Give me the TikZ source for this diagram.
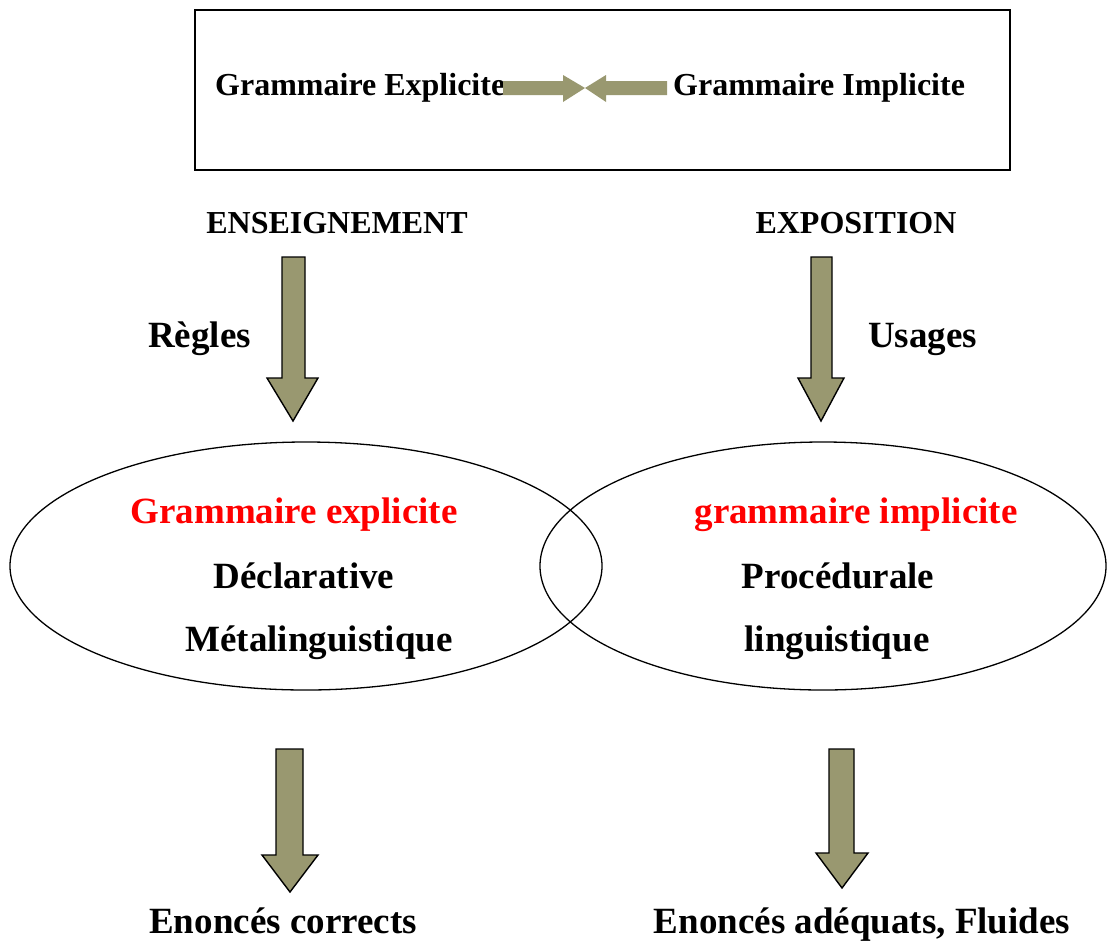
\documentclass[tikz,border=0pt]{standalone}
\usepackage{fontspec}
\setmainfont{Liberation Serif}
\definecolor{olivefill}{RGB}{153,152,112}
\definecolor{pured}{RGB}{255,0,0}
\begin{document}
\begin{tikzpicture}[x=1pt,y=-1pt,
  mid/.style={font=\bfseries\fontsize{32}{38}\selectfont,inner sep=0pt,anchor=base},
  big/.style={font=\bfseries\fontsize{37}{44}\selectfont,inner sep=0pt,anchor=base},
  blockarrow/.style={fill=olivefill,draw=black,line width=1.4pt,line join=miter},
  flatarrow/.style={fill=olivefill,draw=none},
  ell/.style={draw=black,line width=1.3pt}]
\useasboundingbox (0,0) rectangle (1107,940);
\fill[white] (0,0) rectangle (1107,940);
% top box
\draw[line width=1.4pt] (195,10) rectangle (1010,170);
\node[mid,anchor=base west] (gex) at (215,95) {Grammaire Explicite};
\node[mid,anchor=base west] (gim) at (673,95) {Grammaire Implicite};
% horizontal arrows
\fill[flatarrow] (503,81) -- (563,81) -- (563,75) -- (585,88) -- (563,102) -- (563,95) -- (503,95) -- cycle;
\fill[flatarrow] (667,81) -- (606,81) -- (606,75) -- (585,88) -- (606,102) -- (606,95) -- (667,95) -- cycle;
% headings
\node[mid] (ens) at (337,233) {ENSEIGNEMENT};
\node[mid] (exp) at (856,233) {EXPOSITION};
% upper block arrows
\draw[blockarrow] (282,257) -- (305,257) -- (305,378) -- (318,378) -- (293,421) -- (267,378) -- (282,378) -- cycle;
\draw[blockarrow] (811,257) -- (832,257) -- (832,378) -- (844,378) -- (821,421) -- (798,378) -- (811,378) -- cycle;
\node[big,anchor=base west] (reg) at (148,347) {Règles};
\node[big,anchor=base west] (usa) at (868,347) {Usages};
% ellipses
\draw[ell] (306,566) ellipse [x radius=296, y radius=124];
\draw[ell] (823,566) ellipse [x radius=283, y radius=124];
\node[big,text=pured] (gre) at (294,523) {Grammaire explicite};
\node[big] (dec) at (304,588) {Déclarative};
\node[big] (met) at (319,651) {Métalinguistique};
\node[big,text=pured] (gri) at (856,523) {grammaire implicite};
\node[big] (pro) at (838,588) {Procédurale};
\node[big] (lin) at (837,651) {linguistique};
% lower block arrows
\draw[blockarrow] (276,749) -- (303,749) -- (303,855) -- (318,855) -- (290,892) -- (262,855) -- (276,855) -- cycle;
\draw[blockarrow] (829,749) -- (854,749) -- (854,853) -- (868,853) -- (842,888) -- (816,853) -- (829,853) -- cycle;
\node[big] (ec) at (283,933) {Enoncés corrects};
\node[big] (ea) at (862,933) {Enoncés adéquats, Fluides};
\end{tikzpicture}
\end{document}
